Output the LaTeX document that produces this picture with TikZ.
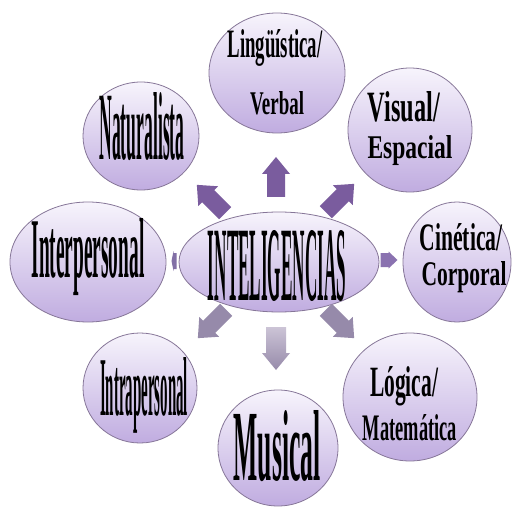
\documentclass[tikz,border=0pt]{standalone}
\usepackage{fontspec}
\setmainfont{Liberation Serif}
\usetikzlibrary{shapes.geometric}
\definecolor{bubtop}{HTML}{F7F4FC}
\definecolor{bubbot}{HTML}{C0ACE0}
\definecolor{bubline}{HTML}{867698}
\definecolor{arrdark}{HTML}{7A5C9E}
\definecolor{arrmid}{HTML}{8A72B0}
\definecolor{arrleft}{HTML}{8270A6}
\definecolor{arrgray}{HTML}{968AAA}
\definecolor{arrlight}{HTML}{CCC4D6}
% stretched word-art text: width, height, word
\newcommand{\wart}[3]{\resizebox{#1pt}{#2pt}{\bfseries #3}}
\begin{document}
\begin{tikzpicture}[x=1pt,y=-1pt,
  bub/.style={ellipse,draw=bubline,line width=0.8pt,top color=bubtop,bottom color=bubbot,inner sep=0pt},
  txt/.style={anchor=base,inner sep=0pt}]
\useasboundingbox (0,0) rectangle (517,508);
\fill[white] (0,0) rectangle (517,508);
% bubbles
\node[bub,minimum width=200pt,minimum height=100pt] (intel) at (279,262) {};
\node[bub,minimum width=136pt,minimum height=120pt] (ling) at (277,73) {};
\node[bub,minimum width=124pt,minimum height=124pt] (vis) at (410,130) {};
\node[bub,minimum width=108pt,minimum height=120pt] (cin) at (457,262) {};
\node[bub,minimum width=134pt,minimum height=128pt] (log) at (410,397) {};
\node[bub,minimum width=120pt,minimum height=116pt] (mus) at (278,448) {};
\node[bub,minimum width=114pt,minimum height=110pt] (intra) at (140,388) {};
\node[bub,minimum width=156pt,minimum height=120pt] (inter) at (88,262) {};
\node[bub,minimum width=116pt,minimum height=108pt] (nat) at (141,136) {};
% labels
\node[txt] (intelT) at (277,300) {\wart{138}{70}{INTELIGENCIAS}};
\node[txt] (lingT) at (275,58) {\wart{95}{28}{Lingüística/}};
\node[txt] (lingT2) at (277,115) {\wart{54}{23}{Verbal}};
\node[txt] (visT) at (404,122) {\wart{72}{30}{Visual/}};
\node[txt] (visT2) at (410,158) {\wart{85}{23}{Espacial}};
\node[txt] (cinT) at (461,250) {\wart{83}{27}{Cinética/}};
\node[txt] (cinT2) at (464,285) {\wart{85}{24}{Corporal}};
\node[txt] (logT) at (404,396) {\wart{68}{30}{Lógica/}};
\node[txt] (logT2) at (410,440) {\wart{94}{26}{Matemática}};
\node[txt] (musT) at (277,480) {\wart{87}{70}{Musical}};
\node[txt] (intraT) at (144,415) {\wart{88}{58}{Intrapersonal}};
\node[txt] (interT) at (88,277) {\wart{113}{59}{Interpersonal}};
\node[txt] (natT) at (142,160) {\wart{85}{67}{Naturalista}};
% block arrows: x/y/angle/length/head width/shaft width/head length/colour
\foreach \px/\py/\ang/\len/\hw/\sw/\hl/\col in {
  276/177/90/40/28/18/17/arrdark,
  211/199/135/40/28/17/16/arrdark,
  340/198/45/40/28/17/16/arrdark,
  389/260/0/17/17/14/9/arrmid,
  174/261/180/5/20/16/2/arrleft,
  212/324/225/40/28/17/16/arrgray,
  340/324/-45/40/28/17/16/arrgray}
  \fill[\col,shift={(\px,\py)},rotate=\ang]
    (-\len/2,-\sw/2) -- (\len/2-\hl,-\sw/2) -- (\len/2-\hl,-\hw/2) -- (\len/2,0)
    -- (\len/2-\hl,\hw/2) -- (\len/2-\hl,\sw/2) -- (-\len/2,\sw/2) -- cycle;
\shade[top color=arrlight,bottom color=arrgray]
  (266,327) -- (286,327) -- (286,353) -- (290,353) -- (276,370) -- (262,353) -- (266,353) -- cycle;
\end{tikzpicture}
\end{document}
